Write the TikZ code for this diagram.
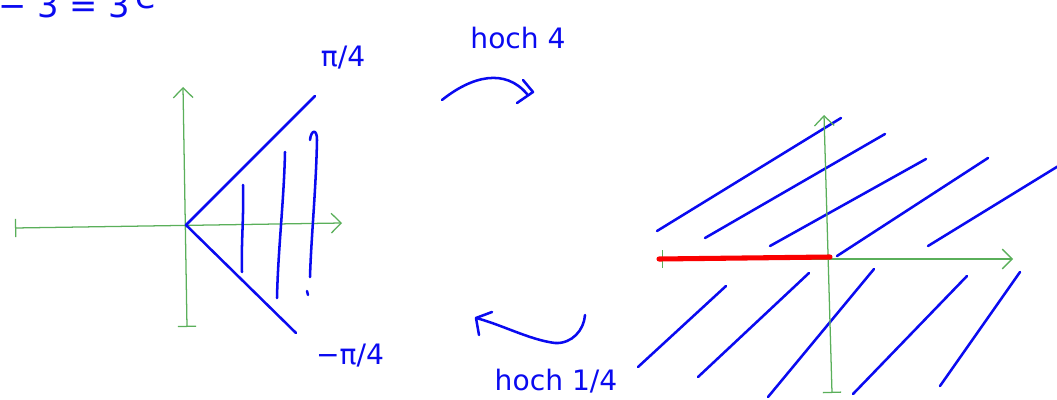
\documentclass[tikz,border=0pt]{standalone}
\usepackage{fontspec}
\setmainfont{DejaVu Sans}
\usetikzlibrary{arrows.meta}
\definecolor{inkblue}{RGB}{10,10,240}
\definecolor{axisgreen}{RGB}{90,175,90}
\definecolor{inkred}{RGB}{250,0,0}
\begin{document}
\begin{tikzpicture}[x=0.025cm,y=-0.025cm,
  ink/.style={draw=inkblue,line width=1.8pt,line cap=round,line join=round},
  axis/.style={draw=axisgreen,line width=0.9pt},
  redline/.style={draw=inkred,line width=3.6pt,line cap=round},
  lbl/.style={text=inkblue,font=\fontsize{20}{24}\selectfont,inner sep=0pt},
  tipend/.style={-{Straight Barb[length=7pt,width=14pt]}},
  bothend/.style={{Bar[width=13pt]}-{Straight Barb[length=7pt,width=14pt]}},
]
\useasboundingbox (0,0) rectangle (1057,400);
\clip (0,0) rectangle (1057,400);

% top-left cut-off formula
\node[lbl,anchor=base west,font=\fontsize{24}{28}\selectfont] (formula) at (-2,18) {− 3 = 3\,\raisebox{7pt}{e}};

% ---------- left diagram ----------
\coordinate (LO) at (186,225);
\coordinate (Lxl) at (15,228);
\coordinate (Lxr) at (342,223);
\coordinate (Lyb) at (187,327);
\coordinate (Lyt) at (183,87);
\draw[axis,bothend] (Lxl) -- (Lxr);
\draw[axis,bothend] (Lyb) -- (Lyt);

\coordinate (Lup) at (315,96);
\coordinate (Llo) at (296,333);
\draw[ink] (Lup) -- (LO) -- (Llo);

% hatch strokes
\coordinate (h1a) at (243,185); \coordinate (h1b) at (242,272);
\draw[ink] (h1a) .. controls (244,215) and (241,245) .. (h1b);
\coordinate (h2a) at (285,152); \coordinate (h2b) at (277,298);
\draw[ink] (h2a) .. controls (284,200) and (278,250) .. (h2b);
\coordinate (h3a) at (310,140); \coordinate (h3b) at (310,277);
\draw[ink] (h3a) .. controls (311,130) and (317,128) .. (317,140) .. controls (316,190) and (311,240) .. (h3b);
\coordinate (h3d) at (307,291); \coordinate (h3e) at (308,295);
\draw[ink] (h3d) -- (h3e);

\node[lbl] (piq) at (343,58) {π/4};
\node[lbl] (mpiq) at (350,356) {−π/4};

% ---------- transformation arrows ----------
\node[lbl] (hoch4) at (518,38) {hoch 4};
\coordinate (ua) at (442,100);
\coordinate (ub) at (527,94);
\draw[ink] (ua) .. controls (472,76) and (505,68) .. (ub);
\coordinate (uh1) at (523,80); \coordinate (uh2) at (533,92); \coordinate (uh3) at (517,103);
\draw[ink] (uh1) -- (uh2) -- (uh3);

\node[lbl] (hochq) at (556,381) {hoch 1/4};
\coordinate (la) at (585,315);
\coordinate (lm) at (555,343);
\coordinate (lb) at (476,318);
\draw[ink] (la) .. controls (584,330) and (572,344) .. (lm) .. controls (530,340) and (500,324) .. (lb);
\coordinate (lh1) at (492,312); \coordinate (lh3) at (479,335);
\draw[ink] (lh1) -- (lb) -- (lh3);

% ---------- right diagram ----------
\coordinate (RO) at (830,257);
\coordinate (Rxl) at (662,259);
\coordinate (Rxr) at (1013,259);
\coordinate (Ryb) at (832,393);
\coordinate (Ryt) at (824,115);

% hatching lines (upper)
\foreach \a/\b/\c/\d [count=\i] in {657/231/841/118, 705/238/885/134, 770/246/926/159, 837/256/988/158, 928/246/1060/165}{
  \coordinate (u\i a) at (\a,\b); \coordinate (u\i b) at (\c,\d);
  \draw[ink] (u\i a) -- (u\i b);
}
% hatching lines (lower)
\foreach \a/\b/\c/\d [count=\i] in {726/286/638/367, 809/273/698/377, 874/269/768/397, 967/276/853/394, 1020/272/940/386}{
  \coordinate (w\i a) at (\a,\b); \coordinate (w\i b) at (\c,\d);
  \draw[ink] (w\i a) -- (w\i b);
}

\draw[axis,bothend] (Rxl) -- (Rxr);
\draw[axis,bothend] (Ryb) -- (Ryt);

\coordinate (Rred) at (659,259);
\draw[redline] (Rred) -- (RO);
\end{tikzpicture}
\end{document}
